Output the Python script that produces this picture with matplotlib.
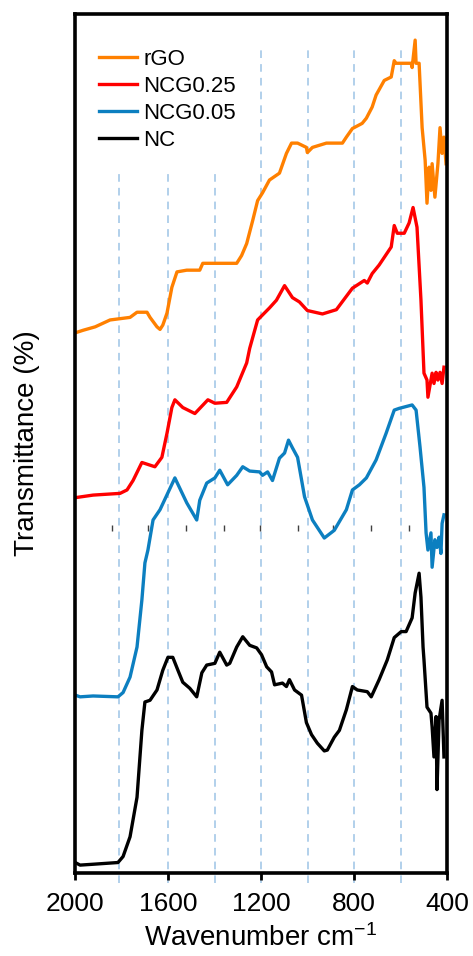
import matplotlib
matplotlib.use('Agg')
import matplotlib.pyplot as plt

plt.rcParams['font.family'] = ['Liberation Sans', 'DejaVu Sans']
plt.rcParams['mathtext.fontset'] = 'custom'
plt.rcParams['mathtext.rm'] = 'Liberation Sans'
plt.rcParams['mathtext.it'] = 'Liberation Sans'

# spectra (wavenumber in cm-1, stacked transmittance in arb. %)
wn_rgo = [2000, 1966, 1914, 1850, 1764, 1734, 1691, 1678, 1648, 1635, 1623, 1605, 1584,
          1562, 1520, 1464, 1451, 1408, 1305, 1284, 1262, 1236, 1215, 1194, 1164, 1121,
          1091, 1069, 1043, 1005, 1001, 979, 919, 850, 833, 807, 765, 747, 722, 705, 670,
          640, 627, 619, 554, 550, 537, 533, 520, 516, 507, 494, 486, 477, 469, 464, 452,
          439, 430, 421, 413, 404]
t_rgo = [62.9, 63.2, 63.6, 64.4, 64.7, 65.3, 65.3, 64.7, 63.6, 63.3, 63.8, 65.2, 68.2,
         70.0, 70.2, 70.2, 71.0, 71.0, 71.0, 71.9, 73.3, 76.0, 78.3, 79.2, 80.7, 81.5,
         83.8, 85.0, 85.0, 84.5, 83.9, 84.5, 85.0, 85.0, 85.7, 86.7, 87.3, 87.9, 89.2,
         90.6, 92.3, 92.7, 94.6, 94.3, 94.3, 93.8, 97.0, 94.3, 94.3, 92.0, 86.8, 83.0,
         78.0, 82.2, 79.5, 82.6, 78.7, 82.6, 86.8, 83.8, 85.7, 82.6]

wn_ncg25 = [2000, 1923, 1807, 1777, 1751, 1713, 1657, 1627, 1605, 1584, 1571, 1537, 1485,
            1429, 1399, 1348, 1305, 1262, 1249, 1215, 1164, 1134, 1099, 1065, 1035, 1001,
            936, 876, 807, 756, 743, 722, 692, 640, 627, 614, 584, 563, 546, 529, 512,
            499, 486, 482, 464, 456, 447, 439, 430, 421, 413]
t_ncg25 = [43.7, 44.0, 44.2, 44.6, 45.7, 47.8, 47.3, 48.4, 51.2, 54.2, 55.1, 54.2, 53.5,
           55.1, 54.7, 54.8, 56.6, 59.4, 61.1, 64.4, 65.8, 66.7, 68.4, 67.0, 66.5, 65.5,
           65.1, 65.6, 68.1, 69.0, 68.7, 69.8, 70.8, 72.9, 75.4, 74.5, 74.5, 75.7, 77.5,
           75.2, 66.7, 58.2, 57.4, 55.4, 58.2, 57.0, 58.3, 57.4, 58.3, 57.0, 58.9]

wn_ncg05 = [2000, 1979, 1923, 1816, 1794, 1764, 1734, 1713, 1700, 1687, 1665, 1635, 1571,
            1520, 1477, 1464, 1434, 1399, 1378, 1344, 1305, 1279, 1249, 1206, 1194, 1172,
            1151, 1121, 1099, 1082, 1065, 1043, 1013, 979, 928, 885, 833, 807, 777, 747,
            705, 662, 627, 606, 550, 533, 516, 499, 490, 482, 469, 464, 452, 443, 434,
            426, 421, 413]
t_ncg05 = [20.7, 20.5, 20.6, 20.5, 21.0, 22.8, 26.3, 31.8, 36.1, 37.6, 41.1, 42.3, 46.0,
           43.1, 41.1, 43.4, 45.4, 46.0, 46.9, 45.2, 46.3, 47.3, 46.8, 46.7, 46.3, 46.7,
           45.7, 48.3, 48.9, 50.4, 49.5, 48.4, 43.8, 41.1, 39.0, 39.9, 42.3, 44.6, 45.2,
           46.0, 48.1, 51.2, 53.9, 54.1, 54.5, 53.9, 49.6, 44.9, 39.6, 37.6, 39.6, 35.6,
           38.8, 37.9, 39.1, 37.2, 40.7, 41.7]

wn_nc = [2000, 1979, 1923, 1816, 1794, 1764, 1734, 1713, 1700, 1678, 1648, 1623, 1601,
         1580, 1558, 1537, 1507, 1477, 1455, 1434, 1399, 1378, 1348, 1335, 1305, 1279,
         1249, 1219, 1198, 1176, 1155, 1142, 1108, 1091, 1078, 1056, 1026, 1005, 983,
         958, 928, 915, 885, 863, 833, 807, 786, 743, 726, 692, 657, 627, 597, 576, 550,
         537, 520, 512, 503, 499, 486, 469, 464, 456, 447, 443, 434, 421, 413]
t_nc = [1.2, 0.9, 1.0, 1.2, 1.9, 4.2, 8.8, 16.6, 19.9, 20.1, 21.3, 23.6, 25.1, 25.1, 23.6,
        22.2, 21.5, 20.5, 23.3, 24.2, 24.4, 25.7, 24.2, 24.4, 26.3, 27.5, 26.5, 26.2, 25.4,
        24.0, 23.4, 21.9, 22.1, 21.7, 22.5, 21.3, 20.7, 17.5, 16.1, 15.1, 14.2, 14.3, 15.8,
        16.6, 19.0, 21.7, 21.3, 21.1, 20.5, 22.5, 24.8, 27.4, 28.1, 28.1, 29.7, 32.6, 34.9,
        32.1, 26.3, 24.8, 19.3, 18.6, 17.0, 13.5, 18.2, 9.7, 17.8, 20.1, 13.5]

# light blue reference lines and the stray tick row in the middle of the plot
guide_long = [1200, 1000, 800, 600]
guide_short = [1810, 1600, 1400]
stray_ticks = [1841, 1687, 1524, 1361, 1206, 1043, 889, 726, 563]

fig = plt.figure(figsize=(4.73, 9.56), dpi=100)
ax = fig.add_axes([0.159, 0.087, 0.786, 0.898])

for g in guide_long:
    ax.axvline(g, ymin=-0.012, ymax=0.96, color='#9dc3e6', lw=1.1, ls=(0, (5, 4)), zorder=0, clip_on=False)
for g in guide_short:
    ax.axvline(g, ymin=-0.012, ymax=0.82, color='#9dc3e6', lw=1.1, ls=(0, (5, 4)), zorder=0, clip_on=False)

ax.plot(stray_ticks, [40.2] * len(stray_ticks), ls='none', marker='|', ms=4, mew=1, color='#404040')

ax.plot(wn_rgo, t_rgo, color='#ff8000', lw=2.4, label='rGO')
ax.plot(wn_ncg25, t_ncg25, color='#ff0000', lw=2.4, label='NCG0.25')
ax.plot(wn_ncg05, t_ncg05, color='#0c7fc0', lw=2.4, label='NCG0.05')
ax.plot(wn_nc, t_nc, color='black', lw=2.4, label='NC')

ax.set_xlim(2000, 400)
ax.set_ylim(0, 100)
ax.set_xticks([2000, 1600, 1200, 800, 400])
ax.set_yticks([])
ax.tick_params(axis='x', direction='out', length=5, width=2, labelsize=19, pad=9)
for s in ax.spines.values():
    s.set_linewidth(2.6)

ax.set_xlabel('Wavenumber cm$^{-1}$', fontsize=20, labelpad=6)
ax.set_ylabel('Transmittance (%)', fontsize=20, labelpad=25)

ax.legend(loc='upper left', bbox_to_anchor=(0.04, 0.970), borderaxespad=0, frameon=False,
          fontsize=16, handlelength=1.7, handletextpad=0.3, labelspacing=0.27)

plt.savefig('out.png', dpi=100)
plt.close()
